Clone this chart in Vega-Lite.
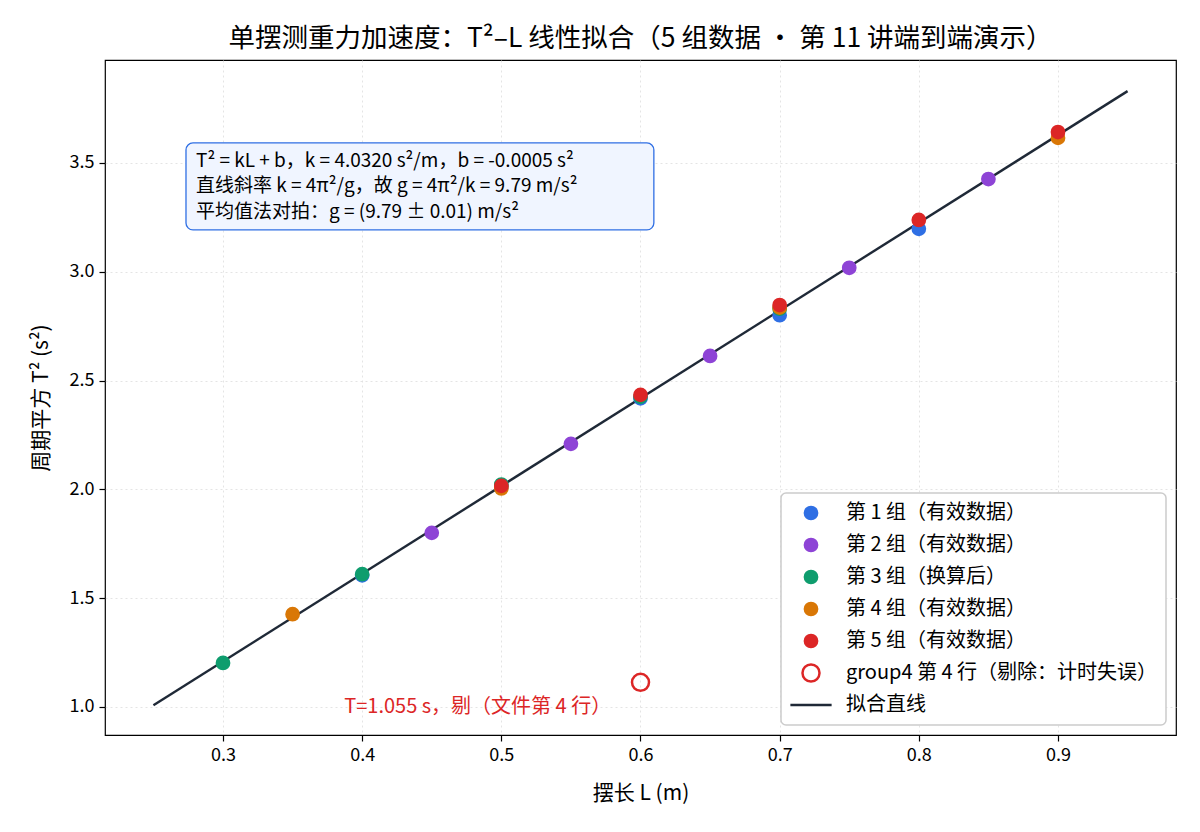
{
  "$schema": "https://vega.github.io/schema/vega-lite/v6.json",
  "description": "单摆测重力加速度 T²–L 线性拟合",
  "width": 1071,
  "height": 675,
  "autosize": {"type": "none"},
  "padding": {"left": 105, "top": 60, "right": 24, "bottom": 97},
  "title": {
    "text": "单摆测重力加速度：T²–L 线性拟合（5 组数据 · 第 11 讲端到端演示）",
    "fontSize": 26.5,
    "fontWeight": "normal",
    "font": "Noto Sans CJK SC",
    "color": "#000000",
    "offset": 8
  },
  "datasets": {
    "pts": [
      {"L": 0.4, "T2": 1.605, "series": "第 1 组（有效数据）"},
      {"L": 0.5, "T2": 2.012, "series": "第 1 组（有效数据）"},
      {"L": 0.6, "T2": 2.418, "series": "第 1 组（有效数据）"},
      {"L": 0.7, "T2": 2.8, "series": "第 1 组（有效数据）"},
      {"L": 0.8, "T2": 3.197, "series": "第 1 组（有效数据）"},
      {"L": 0.45, "T2": 1.8, "series": "第 2 组（有效数据）"},
      {"L": 0.55, "T2": 2.209, "series": "第 2 组（有效数据）"},
      {"L": 0.65, "T2": 2.613, "series": "第 2 组（有效数据）"},
      {"L": 0.75, "T2": 3.018, "series": "第 2 组（有效数据）"},
      {"L": 0.85, "T2": 3.426, "series": "第 2 组（有效数据）"},
      {"L": 0.3, "T2": 1.202, "series": "第 3 组（换算后）"},
      {"L": 0.4, "T2": 1.61, "series": "第 3 组（换算后）"},
      {"L": 0.5, "T2": 2.022, "series": "第 3 组（换算后）"},
      {"L": 0.6, "T2": 2.425, "series": "第 3 组（换算后）"},
      {"L": 0.7, "T2": 2.83, "series": "第 3 组（换算后）"},
      {"L": 0.35, "T2": 1.426, "series": "第 4 组（有效数据）"},
      {"L": 0.5, "T2": 2.004, "series": "第 4 组（有效数据）"},
      {"L": 0.7, "T2": 2.835, "series": "第 4 组（有效数据）"},
      {"L": 0.9, "T2": 3.615, "series": "第 4 组（有效数据）"},
      {"L": 0.5, "T2": 2.016, "series": "第 5 组（有效数据）"},
      {"L": 0.6, "T2": 2.434, "series": "第 5 组（有效数据）"},
      {"L": 0.7, "T2": 2.847, "series": "第 5 组（有效数据）"},
      {"L": 0.8, "T2": 3.238, "series": "第 5 组（有效数据）"},
      {"L": 0.9, "T2": 3.642, "series": "第 5 组（有效数据）"},
      {"L": 0.6, "T2": 1.113, "series": "group4 第 4 行（剔除：计时失误）"}
    ],
    "fit": [
      {"L": 0.25, "T2": 1.0075, "series": "拟合直线"},
      {"L": 0.95, "T2": 3.8299, "series": "拟合直线"}
    ]
  },
  "layer": [
    {
      "data": {"name": "fit"},
      "mark": {"type": "line", "strokeWidth": 2.4},
      "encoding": {
        "x": {
          "field": "L",
          "type": "quantitative",
          "scale": {"domain": [0.2152, 0.9848], "nice": false, "zero": false},
          "axis": {
            "title": "摆长 L (m)",
            "values": [0.3, 0.4, 0.5, 0.6, 0.7, 0.8, 0.9],
            "format": ".1f"
          }
        },
        "y": {
          "field": "T2",
          "type": "quantitative",
          "scale": {"domain": [0.871, 3.973], "nice": false, "zero": false},
          "axis": {
            "title": "周期平方 T² (s²)",
            "values": [1.0, 1.5, 2.0, 2.5, 3.0, 3.5],
            "format": ".1f"
          }
        },
        "stroke": {"field": "series", "type": "nominal"}
      }
    },
    {
      "data": {"name": "pts"},
      "mark": {"type": "point", "filled": false, "strokeWidth": 2.5, "opacity": 1},
      "encoding": {
        "x": {"field": "L", "type": "quantitative"},
        "y": {"field": "T2", "type": "quantitative"},
        "fill": {
          "field": "series",
          "type": "nominal",
          "scale": {
            "domain": ["第 1 组（有效数据）", "第 2 组（有效数据）", "第 3 组（换算后）", "第 4 组（有效数据）", "第 5 组（有效数据）", "group4 第 4 行（剔除：计时失误）", "拟合直线"],
            "range": ["#2f6fe4", "#8e44d6", "#0f9d6e", "#d97706", "#dc2626", "transparent", "transparent"]
          }
        },
        "stroke": {
          "field": "series",
          "type": "nominal",
          "scale": {
            "domain": ["第 1 组（有效数据）", "第 2 组（有效数据）", "第 3 组（换算后）", "第 4 组（有效数据）", "第 5 组（有效数据）", "group4 第 4 行（剔除：计时失误）", "拟合直线"],
            "range": ["#2f6fe4", "#8e44d6", "#0f9d6e", "#d97706", "#dc2626", "#dc2626", "#1f2937"]
          }
        },
        "shape": {
          "field": "series",
          "type": "nominal",
          "scale": {
            "domain": ["第 1 组（有效数据）", "第 2 组（有效数据）", "第 3 组（换算后）", "第 4 组（有效数据）", "第 5 组（有效数据）", "group4 第 4 行（剔除：计时失误）", "拟合直线"],
            "range": ["circle", "circle", "circle", "circle", "circle", "circle", "stroke"]
          }
        },
        "size": {
          "field": "series",
          "type": "nominal",
          "scale": {
            "type": "ordinal",
            "domain": ["第 1 组（有效数据）", "第 2 组（有效数据）", "第 3 组（换算后）", "第 4 组（有效数据）", "第 5 组（有效数据）", "group4 第 4 行（剔除：计时失误）", "拟合直线"],
            "range": [150, 150, 150, 150, 150, 290, 1700]
          }
        }
      }
    },
    {
      "data": {"values": [{}]},
      "mark": {
        "type": "rect",
        "fill": "#f0f5ff",
        "stroke": "#2f6fe4",
        "strokeWidth": 1.3,
        "cornerRadius": 7
      },
      "encoding": {
        "x": {"datum": 0.2734, "type": "quantitative"},
        "x2": {"datum": 0.6096},
        "y": {"datum": 3.592, "type": "quantitative"},
        "y2": {"datum": 3.192}
      }
    },
    {
      "data": {"values": [{}]},
      "mark": {
        "type": "text",
        "text": ["T² = kL + b，k = 4.0320 s²/m，b = -0.0005 s²", "直线斜率 k = 4π²/g，故 g = 4π²/k = 9.79 m/s²", "平均值法对拍：g = (9.79 ± 0.01) m/s²"],
        "align": "left",
        "baseline": "middle",
        "font": "Noto Sans CJK SC",
        "fontSize": 19,
        "lineHeight": 25.5,
        "color": "#000000"
      },
      "encoding": {
        "x": {"datum": 0.2806, "type": "quantitative"},
        "y": {"datum": 3.509, "type": "quantitative"}
      }
    },
    {
      "data": {"values": [{}]},
      "mark": {
        "type": "text",
        "text": "T=1.055 s，剔（文件第 4 行）",
        "align": "center",
        "baseline": "middle",
        "font": "Noto Sans CJK SC",
        "fontSize": 20,
        "color": "#dc2626"
      },
      "encoding": {
        "x": {"datum": 0.483, "type": "quantitative"},
        "y": {"datum": 1.0, "type": "quantitative"}
      }
    }
  ],
  "config": {
    "font": "Noto Sans CJK SC",
    "view": {"stroke": "#000000", "strokeWidth": 1.2},
    "axis": {
      "domain": false,
      "grid": true,
      "gridColor": "#dddddd",
      "gridDash": [2, 3],
      "gridWidth": 0.8,
      "tickColor": "#000000",
      "tickSize": 6,
      "tickWidth": 1.2,
      "labelFont": "Noto Sans CJK SC",
      "labelFontSize": 18,
      "labelColor": "#000000",
      "labelPadding": 5,
      "titleFont": "Noto Sans CJK SC",
      "titleFontSize": 21,
      "titleFontWeight": "normal",
      "titleColor": "#000000"
    },
    "axisX": {"titlePadding": 18},
    "axisY": {"titlePadding": 18},
    "legend": {
      "orient": "bottom-right",
      "offset": 10,
      "title": null,
      "labelFont": "Noto Sans CJK SC",
      "labelFontSize": 20,
      "labelColor": "#000000",
      "fillColor": "#ffffff",
      "strokeColor": "#cccccc",
      "strokeWidth": 1.5,
      "cornerRadius": 5,
      "padding": 8,
      "rowPadding": 8,
      "clipHeight": 24,
      "labelOffset": 13,
      "symbolStrokeWidth": 2.5,
      "labelLimit": 500
    }
  }
}
